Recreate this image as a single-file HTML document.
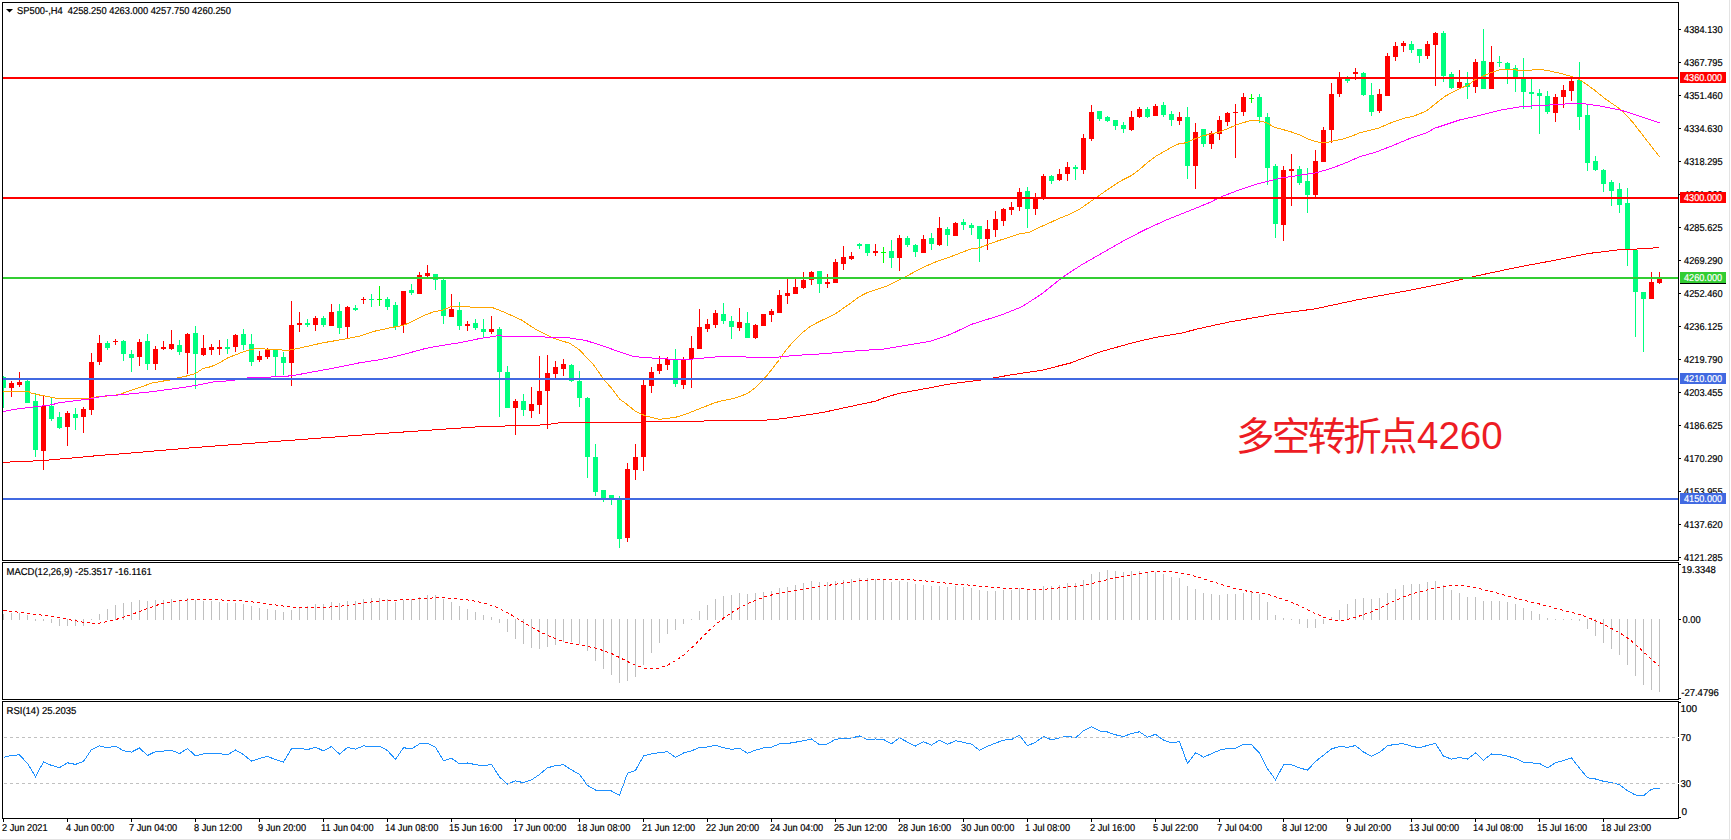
<!DOCTYPE html>
<html><head><meta charset="utf-8"><title>SP500 H4</title>
<style>html,body{margin:0;padding:0;background:#fff;}body{width:1731px;height:840px;overflow:hidden;}svg{display:block;}</style>
</head><body>
<svg width="1731" height="840" viewBox="0 0 1731 840" font-family="'Liberation Sans', Arial, sans-serif"><defs><clipPath id="cm"><rect x="3" y="3" width="1675" height="557"/></clipPath><clipPath id="cs"><rect x="3" y="563" width="1675" height="136"/></clipPath><clipPath id="cr"><rect x="3" y="702" width="1675" height="116"/></clipPath></defs>
<g clip-path="url(#cm)">
<g shape-rendering="crispEdges">
<rect x="3" y="376" width="1" height="32" fill="#00FF7F"/>
<rect x="1" y="377" width="5" height="11" fill="#00FF7F"/>
<rect x="11" y="381" width="1" height="16" fill="#FF0000"/>
<rect x="9" y="383" width="5" height="5" fill="#FF0000"/>
<rect x="19" y="372" width="1" height="15" fill="#FF0000"/>
<rect x="17" y="382" width="5" height="3" fill="#FF0000"/>
<rect x="27" y="380" width="1" height="23" fill="#00FF7F"/>
<rect x="25" y="381" width="5" height="22" fill="#00FF7F"/>
<rect x="35" y="393" width="1" height="64" fill="#00FF7F"/>
<rect x="33" y="401" width="5" height="49" fill="#00FF7F"/>
<rect x="43" y="396" width="1" height="74" fill="#FF0000"/>
<rect x="41" y="406" width="5" height="45" fill="#FF0000"/>
<rect x="51" y="398" width="1" height="23" fill="#00FF7F"/>
<rect x="49" y="406" width="5" height="13" fill="#00FF7F"/>
<rect x="59" y="412" width="1" height="17" fill="#00FF7F"/>
<rect x="57" y="417" width="5" height="11" fill="#00FF7F"/>
<rect x="67" y="411" width="1" height="35" fill="#FF0000"/>
<rect x="65" y="413" width="5" height="14" fill="#FF0000"/>
<rect x="75" y="408" width="1" height="22" fill="#00FF7F"/>
<rect x="73" y="414" width="5" height="4" fill="#00FF7F"/>
<rect x="83" y="407" width="1" height="26" fill="#FF0000"/>
<rect x="81" y="409" width="5" height="8" fill="#FF0000"/>
<rect x="91" y="353" width="1" height="62" fill="#FF0000"/>
<rect x="89" y="362" width="5" height="48" fill="#FF0000"/>
<rect x="99" y="335" width="1" height="30" fill="#FF0000"/>
<rect x="97" y="343" width="5" height="19" fill="#FF0000"/>
<rect x="107" y="341" width="1" height="9" fill="#00FF7F"/>
<rect x="105" y="343" width="5" height="5" fill="#00FF7F"/>
<rect x="115" y="339" width="1" height="6" fill="#FF0000"/>
<rect x="113" y="341" width="5" height="1" fill="#FF0000"/>
<rect x="123" y="340" width="1" height="21" fill="#00FF7F"/>
<rect x="121" y="341" width="5" height="13" fill="#00FF7F"/>
<rect x="131" y="350" width="1" height="22" fill="#00FF7F"/>
<rect x="129" y="354" width="5" height="4" fill="#00FF7F"/>
<rect x="139" y="339" width="1" height="27" fill="#FF0000"/>
<rect x="137" y="342" width="5" height="15" fill="#FF0000"/>
<rect x="147" y="334" width="1" height="36" fill="#00FF7F"/>
<rect x="145" y="341" width="5" height="23" fill="#00FF7F"/>
<rect x="155" y="346" width="1" height="24" fill="#FF0000"/>
<rect x="153" y="349" width="5" height="15" fill="#FF0000"/>
<rect x="163" y="341" width="1" height="9" fill="#FF0000"/>
<rect x="161" y="347" width="5" height="2" fill="#FF0000"/>
<rect x="171" y="330" width="1" height="20" fill="#FF0000"/>
<rect x="169" y="344" width="5" height="5" fill="#FF0000"/>
<rect x="179" y="340" width="1" height="15" fill="#00FF7F"/>
<rect x="177" y="345" width="5" height="7" fill="#00FF7F"/>
<rect x="187" y="333" width="1" height="41" fill="#FF0000"/>
<rect x="185" y="334" width="5" height="19" fill="#FF0000"/>
<rect x="195" y="326" width="1" height="63" fill="#00FF7F"/>
<rect x="193" y="333" width="5" height="21" fill="#00FF7F"/>
<rect x="203" y="335" width="1" height="21" fill="#FF0000"/>
<rect x="201" y="348" width="5" height="7" fill="#FF0000"/>
<rect x="211" y="344" width="1" height="11" fill="#FF0000"/>
<rect x="209" y="347" width="5" height="3" fill="#FF0000"/>
<rect x="219" y="340" width="1" height="15" fill="#FF0000"/>
<rect x="217" y="347" width="5" height="2" fill="#FF0000"/>
<rect x="227" y="339" width="1" height="15" fill="#00FF7F"/>
<rect x="225" y="347" width="5" height="2" fill="#00FF7F"/>
<rect x="235" y="334" width="1" height="18" fill="#FF0000"/>
<rect x="233" y="335" width="5" height="12" fill="#FF0000"/>
<rect x="243" y="329" width="1" height="21" fill="#00FF7F"/>
<rect x="241" y="334" width="5" height="11" fill="#00FF7F"/>
<rect x="251" y="334" width="1" height="32" fill="#00FF7F"/>
<rect x="249" y="344" width="5" height="18" fill="#00FF7F"/>
<rect x="259" y="351" width="1" height="11" fill="#FF0000"/>
<rect x="257" y="356" width="5" height="4" fill="#FF0000"/>
<rect x="267" y="348" width="1" height="11" fill="#FF0000"/>
<rect x="265" y="350" width="5" height="7" fill="#FF0000"/>
<rect x="275" y="349" width="1" height="27" fill="#00FF7F"/>
<rect x="273" y="350" width="5" height="7" fill="#00FF7F"/>
<rect x="283" y="352" width="1" height="23" fill="#00FF7F"/>
<rect x="281" y="357" width="5" height="6" fill="#00FF7F"/>
<rect x="291" y="301" width="1" height="85" fill="#FF0000"/>
<rect x="289" y="325" width="5" height="38" fill="#FF0000"/>
<rect x="299" y="312" width="1" height="20" fill="#FF0000"/>
<rect x="297" y="323" width="5" height="2" fill="#FF0000"/>
<rect x="307" y="319" width="1" height="8" fill="#00FF7F"/>
<rect x="305" y="323" width="5" height="2" fill="#00FF7F"/>
<rect x="315" y="316" width="1" height="15" fill="#FF0000"/>
<rect x="313" y="318" width="5" height="7" fill="#FF0000"/>
<rect x="323" y="316" width="1" height="11" fill="#00FF7F"/>
<rect x="321" y="318" width="5" height="7" fill="#00FF7F"/>
<rect x="331" y="304" width="1" height="22" fill="#FF0000"/>
<rect x="329" y="312" width="5" height="14" fill="#FF0000"/>
<rect x="339" y="304" width="1" height="30" fill="#00FF7F"/>
<rect x="337" y="311" width="5" height="17" fill="#00FF7F"/>
<rect x="347" y="306" width="1" height="32" fill="#FF0000"/>
<rect x="345" y="307" width="5" height="20" fill="#FF0000"/>
<rect x="355" y="305" width="1" height="6" fill="#00FF7F"/>
<rect x="353" y="308" width="5" height="2" fill="#00FF7F"/>
<rect x="363" y="297" width="1" height="7" fill="#FF0000"/>
<rect x="361" y="299" width="5" height="1" fill="#FF0000"/>
<rect x="371" y="294" width="1" height="13" fill="#00FF7F"/>
<rect x="369" y="299" width="5" height="1" fill="#00FF7F"/>
<rect x="379" y="286" width="1" height="20" fill="#00FF00"/>
<rect x="377" y="299" width="5" height="1" fill="#00FF00"/>
<rect x="387" y="297" width="1" height="13" fill="#00FF7F"/>
<rect x="385" y="299" width="5" height="8" fill="#00FF7F"/>
<rect x="395" y="302" width="1" height="28" fill="#00FF7F"/>
<rect x="393" y="305" width="5" height="22" fill="#00FF7F"/>
<rect x="403" y="291" width="1" height="42" fill="#FF0000"/>
<rect x="401" y="291" width="5" height="34" fill="#FF0000"/>
<rect x="411" y="284" width="1" height="11" fill="#00FF7F"/>
<rect x="409" y="290" width="5" height="3" fill="#00FF7F"/>
<rect x="419" y="272" width="1" height="22" fill="#FF0000"/>
<rect x="417" y="275" width="5" height="19" fill="#FF0000"/>
<rect x="427" y="265" width="1" height="12" fill="#FF0000"/>
<rect x="425" y="273" width="5" height="3" fill="#FF0000"/>
<rect x="435" y="274" width="1" height="16" fill="#00FF7F"/>
<rect x="433" y="274" width="5" height="6" fill="#00FF7F"/>
<rect x="443" y="279" width="1" height="45" fill="#00FF7F"/>
<rect x="441" y="280" width="5" height="36" fill="#00FF7F"/>
<rect x="451" y="294" width="1" height="23" fill="#FF0000"/>
<rect x="449" y="309" width="5" height="8" fill="#FF0000"/>
<rect x="459" y="302" width="1" height="28" fill="#00FF7F"/>
<rect x="457" y="310" width="5" height="16" fill="#00FF7F"/>
<rect x="467" y="321" width="1" height="10" fill="#FF0000"/>
<rect x="465" y="324" width="5" height="2" fill="#FF0000"/>
<rect x="475" y="319" width="1" height="11" fill="#00FF7F"/>
<rect x="473" y="323" width="5" height="5" fill="#00FF7F"/>
<rect x="483" y="319" width="1" height="18" fill="#00FF7F"/>
<rect x="481" y="329" width="5" height="3" fill="#00FF7F"/>
<rect x="491" y="316" width="1" height="18" fill="#FF0000"/>
<rect x="489" y="329" width="5" height="3" fill="#FF0000"/>
<rect x="499" y="327" width="1" height="90" fill="#00FF7F"/>
<rect x="497" y="329" width="5" height="43" fill="#00FF7F"/>
<rect x="507" y="366" width="1" height="42" fill="#00FF7F"/>
<rect x="505" y="372" width="5" height="36" fill="#00FF7F"/>
<rect x="515" y="399" width="1" height="36" fill="#FF0000"/>
<rect x="513" y="401" width="5" height="7" fill="#FF0000"/>
<rect x="523" y="394" width="1" height="22" fill="#00FF7F"/>
<rect x="521" y="401" width="5" height="9" fill="#00FF7F"/>
<rect x="531" y="387" width="1" height="31" fill="#FF0000"/>
<rect x="529" y="404" width="5" height="7" fill="#FF0000"/>
<rect x="539" y="356" width="1" height="58" fill="#FF0000"/>
<rect x="537" y="391" width="5" height="14" fill="#FF0000"/>
<rect x="547" y="355" width="1" height="74" fill="#FF0000"/>
<rect x="545" y="373" width="5" height="18" fill="#FF0000"/>
<rect x="555" y="361" width="1" height="17" fill="#FF0000"/>
<rect x="553" y="367" width="5" height="7" fill="#FF0000"/>
<rect x="563" y="359" width="1" height="17" fill="#FF0000"/>
<rect x="561" y="364" width="5" height="5" fill="#FF0000"/>
<rect x="571" y="364" width="1" height="18" fill="#00FF7F"/>
<rect x="569" y="365" width="5" height="16" fill="#00FF7F"/>
<rect x="579" y="371" width="1" height="36" fill="#00FF7F"/>
<rect x="577" y="381" width="5" height="17" fill="#00FF7F"/>
<rect x="587" y="397" width="1" height="81" fill="#00FF7F"/>
<rect x="585" y="398" width="5" height="59" fill="#00FF7F"/>
<rect x="595" y="444" width="1" height="52" fill="#00FF7F"/>
<rect x="593" y="457" width="5" height="35" fill="#00FF7F"/>
<rect x="603" y="490" width="1" height="12" fill="#00FF7F"/>
<rect x="601" y="490" width="5" height="9" fill="#00FF7F"/>
<rect x="611" y="495" width="1" height="10" fill="#00FF7F"/>
<rect x="609" y="495" width="5" height="5" fill="#00FF7F"/>
<rect x="619" y="496" width="1" height="52" fill="#00FF7F"/>
<rect x="617" y="498" width="5" height="41" fill="#00FF7F"/>
<rect x="627" y="463" width="1" height="79" fill="#FF0000"/>
<rect x="625" y="469" width="5" height="69" fill="#FF0000"/>
<rect x="635" y="444" width="1" height="36" fill="#FF0000"/>
<rect x="633" y="457" width="5" height="13" fill="#FF0000"/>
<rect x="643" y="380" width="1" height="91" fill="#FF0000"/>
<rect x="641" y="385" width="5" height="72" fill="#FF0000"/>
<rect x="651" y="367" width="1" height="26" fill="#FF0000"/>
<rect x="649" y="372" width="5" height="14" fill="#FF0000"/>
<rect x="659" y="356" width="1" height="18" fill="#FF0000"/>
<rect x="657" y="364" width="5" height="7" fill="#FF0000"/>
<rect x="667" y="357" width="1" height="13" fill="#FF0000"/>
<rect x="665" y="359" width="5" height="6" fill="#FF0000"/>
<rect x="675" y="349" width="1" height="38" fill="#00FF7F"/>
<rect x="673" y="360" width="5" height="24" fill="#00FF7F"/>
<rect x="683" y="357" width="1" height="32" fill="#FF0000"/>
<rect x="681" y="360" width="5" height="25" fill="#FF0000"/>
<rect x="691" y="336" width="1" height="52" fill="#FF0000"/>
<rect x="689" y="348" width="5" height="11" fill="#FF0000"/>
<rect x="699" y="309" width="1" height="40" fill="#FF0000"/>
<rect x="697" y="327" width="5" height="22" fill="#FF0000"/>
<rect x="707" y="319" width="1" height="13" fill="#FF0000"/>
<rect x="705" y="324" width="5" height="5" fill="#FF0000"/>
<rect x="715" y="310" width="1" height="18" fill="#FF0000"/>
<rect x="713" y="313" width="5" height="12" fill="#FF0000"/>
<rect x="723" y="303" width="1" height="21" fill="#00FF7F"/>
<rect x="721" y="314" width="5" height="7" fill="#00FF7F"/>
<rect x="731" y="316" width="1" height="23" fill="#00FF7F"/>
<rect x="729" y="321" width="5" height="6" fill="#00FF7F"/>
<rect x="739" y="308" width="1" height="23" fill="#FF0000"/>
<rect x="737" y="322" width="5" height="6" fill="#FF0000"/>
<rect x="747" y="312" width="1" height="26" fill="#00FF7F"/>
<rect x="745" y="323" width="5" height="15" fill="#00FF7F"/>
<rect x="755" y="324" width="1" height="15" fill="#FF0000"/>
<rect x="753" y="325" width="5" height="13" fill="#FF0000"/>
<rect x="763" y="314" width="1" height="12" fill="#FF0000"/>
<rect x="761" y="314" width="5" height="12" fill="#FF0000"/>
<rect x="771" y="309" width="1" height="13" fill="#FF0000"/>
<rect x="769" y="311" width="5" height="4" fill="#FF0000"/>
<rect x="779" y="290" width="1" height="23" fill="#FF0000"/>
<rect x="777" y="295" width="5" height="18" fill="#FF0000"/>
<rect x="787" y="279" width="1" height="25" fill="#FF0000"/>
<rect x="785" y="293" width="5" height="3" fill="#FF0000"/>
<rect x="795" y="279" width="1" height="15" fill="#FF0000"/>
<rect x="793" y="287" width="5" height="7" fill="#FF0000"/>
<rect x="803" y="272" width="1" height="17" fill="#FF0000"/>
<rect x="801" y="280" width="5" height="8" fill="#FF0000"/>
<rect x="811" y="271" width="1" height="14" fill="#FF0000"/>
<rect x="809" y="272" width="5" height="8" fill="#FF0000"/>
<rect x="819" y="271" width="1" height="22" fill="#00FF7F"/>
<rect x="817" y="271" width="5" height="13" fill="#00FF7F"/>
<rect x="827" y="274" width="1" height="14" fill="#FF0000"/>
<rect x="825" y="282" width="5" height="2" fill="#FF0000"/>
<rect x="835" y="259" width="1" height="24" fill="#FF0000"/>
<rect x="833" y="262" width="5" height="21" fill="#FF0000"/>
<rect x="843" y="246" width="1" height="24" fill="#FF0000"/>
<rect x="841" y="257" width="5" height="7" fill="#FF0000"/>
<rect x="851" y="252" width="1" height="8" fill="#FF0000"/>
<rect x="849" y="256" width="5" height="3" fill="#FF0000"/>
<rect x="859" y="243" width="1" height="6" fill="#00FF7F"/>
<rect x="857" y="244" width="5" height="2" fill="#00FF7F"/>
<rect x="867" y="244" width="1" height="12" fill="#00FF7F"/>
<rect x="865" y="244" width="5" height="9" fill="#00FF7F"/>
<rect x="875" y="244" width="1" height="12" fill="#FF0000"/>
<rect x="873" y="251" width="5" height="2" fill="#FF0000"/>
<rect x="883" y="247" width="1" height="16" fill="#00FF00"/>
<rect x="881" y="252" width="5" height="1" fill="#00FF00"/>
<rect x="891" y="240" width="1" height="28" fill="#00FF7F"/>
<rect x="889" y="251" width="5" height="7" fill="#00FF7F"/>
<rect x="899" y="235" width="1" height="36" fill="#FF0000"/>
<rect x="897" y="238" width="5" height="20" fill="#FF0000"/>
<rect x="907" y="236" width="1" height="11" fill="#00FF7F"/>
<rect x="905" y="238" width="5" height="7" fill="#00FF7F"/>
<rect x="915" y="244" width="1" height="13" fill="#00FF7F"/>
<rect x="913" y="245" width="5" height="7" fill="#00FF7F"/>
<rect x="923" y="235" width="1" height="18" fill="#FF0000"/>
<rect x="921" y="239" width="5" height="14" fill="#FF0000"/>
<rect x="931" y="233" width="1" height="17" fill="#00FF7F"/>
<rect x="929" y="238" width="5" height="6" fill="#00FF7F"/>
<rect x="939" y="217" width="1" height="29" fill="#FF0000"/>
<rect x="937" y="228" width="5" height="17" fill="#FF0000"/>
<rect x="947" y="227" width="1" height="19" fill="#00FF7F"/>
<rect x="945" y="229" width="5" height="6" fill="#00FF7F"/>
<rect x="955" y="222" width="1" height="14" fill="#FF0000"/>
<rect x="953" y="223" width="5" height="13" fill="#FF0000"/>
<rect x="963" y="219" width="1" height="11" fill="#00FF7F"/>
<rect x="961" y="222" width="5" height="3" fill="#00FF7F"/>
<rect x="971" y="223" width="1" height="12" fill="#00FF7F"/>
<rect x="969" y="225" width="5" height="3" fill="#00FF7F"/>
<rect x="979" y="226" width="1" height="36" fill="#00FF7F"/>
<rect x="977" y="226" width="5" height="13" fill="#00FF7F"/>
<rect x="987" y="220" width="1" height="30" fill="#FF0000"/>
<rect x="985" y="229" width="5" height="10" fill="#FF0000"/>
<rect x="995" y="211" width="1" height="26" fill="#FF0000"/>
<rect x="993" y="219" width="5" height="11" fill="#FF0000"/>
<rect x="1003" y="208" width="1" height="18" fill="#FF0000"/>
<rect x="1001" y="209" width="5" height="12" fill="#FF0000"/>
<rect x="1011" y="202" width="1" height="13" fill="#FF0000"/>
<rect x="1009" y="207" width="5" height="3" fill="#FF0000"/>
<rect x="1019" y="188" width="1" height="23" fill="#FF0000"/>
<rect x="1017" y="192" width="5" height="15" fill="#FF0000"/>
<rect x="1027" y="187" width="1" height="41" fill="#00FF7F"/>
<rect x="1025" y="191" width="5" height="18" fill="#00FF7F"/>
<rect x="1035" y="193" width="1" height="22" fill="#FF0000"/>
<rect x="1033" y="198" width="5" height="11" fill="#FF0000"/>
<rect x="1043" y="174" width="1" height="26" fill="#FF0000"/>
<rect x="1041" y="176" width="5" height="23" fill="#FF0000"/>
<rect x="1051" y="175" width="1" height="9" fill="#00FF7F"/>
<rect x="1049" y="176" width="5" height="5" fill="#00FF7F"/>
<rect x="1059" y="169" width="1" height="12" fill="#FF0000"/>
<rect x="1057" y="174" width="5" height="6" fill="#FF0000"/>
<rect x="1067" y="162" width="1" height="19" fill="#FF0000"/>
<rect x="1065" y="167" width="5" height="7" fill="#FF0000"/>
<rect x="1075" y="165" width="1" height="15" fill="#00FF7F"/>
<rect x="1073" y="167" width="5" height="2" fill="#00FF7F"/>
<rect x="1083" y="134" width="1" height="40" fill="#FF0000"/>
<rect x="1081" y="138" width="5" height="32" fill="#FF0000"/>
<rect x="1091" y="105" width="1" height="36" fill="#FF0000"/>
<rect x="1089" y="112" width="5" height="27" fill="#FF0000"/>
<rect x="1099" y="111" width="1" height="10" fill="#00FF7F"/>
<rect x="1097" y="111" width="5" height="8" fill="#00FF7F"/>
<rect x="1107" y="116" width="1" height="6" fill="#00FF7F"/>
<rect x="1105" y="117" width="5" height="4" fill="#00FF7F"/>
<rect x="1115" y="120" width="1" height="10" fill="#00FF7F"/>
<rect x="1113" y="120" width="5" height="6" fill="#00FF7F"/>
<rect x="1123" y="122" width="1" height="11" fill="#00FF7F"/>
<rect x="1121" y="125" width="5" height="4" fill="#00FF7F"/>
<rect x="1131" y="111" width="1" height="20" fill="#FF0000"/>
<rect x="1129" y="117" width="5" height="13" fill="#FF0000"/>
<rect x="1139" y="107" width="1" height="11" fill="#FF0000"/>
<rect x="1137" y="109" width="5" height="8" fill="#FF0000"/>
<rect x="1147" y="107" width="1" height="11" fill="#00FF7F"/>
<rect x="1145" y="109" width="5" height="8" fill="#00FF7F"/>
<rect x="1155" y="104" width="1" height="12" fill="#FF0000"/>
<rect x="1153" y="106" width="5" height="10" fill="#FF0000"/>
<rect x="1163" y="102" width="1" height="15" fill="#00FF7F"/>
<rect x="1161" y="105" width="5" height="10" fill="#00FF7F"/>
<rect x="1171" y="111" width="1" height="15" fill="#00FF7F"/>
<rect x="1169" y="114" width="5" height="6" fill="#00FF7F"/>
<rect x="1179" y="112" width="1" height="13" fill="#FF0000"/>
<rect x="1177" y="117" width="5" height="4" fill="#FF0000"/>
<rect x="1187" y="107" width="1" height="72" fill="#00FF7F"/>
<rect x="1185" y="117" width="5" height="49" fill="#00FF7F"/>
<rect x="1195" y="123" width="1" height="66" fill="#FF0000"/>
<rect x="1193" y="132" width="5" height="34" fill="#FF0000"/>
<rect x="1203" y="129" width="1" height="18" fill="#00FF7F"/>
<rect x="1201" y="129" width="5" height="15" fill="#00FF7F"/>
<rect x="1211" y="131" width="1" height="18" fill="#FF0000"/>
<rect x="1209" y="133" width="5" height="11" fill="#FF0000"/>
<rect x="1219" y="116" width="1" height="24" fill="#FF0000"/>
<rect x="1217" y="120" width="5" height="14" fill="#FF0000"/>
<rect x="1227" y="112" width="1" height="14" fill="#FF0000"/>
<rect x="1225" y="113" width="5" height="9" fill="#FF0000"/>
<rect x="1235" y="104" width="1" height="54" fill="#FF0000"/>
<rect x="1233" y="112" width="5" height="1" fill="#FF0000"/>
<rect x="1243" y="93" width="1" height="23" fill="#FF0000"/>
<rect x="1241" y="97" width="5" height="15" fill="#FF0000"/>
<rect x="1251" y="94" width="1" height="9" fill="#00FF00"/>
<rect x="1249" y="98" width="5" height="1" fill="#00FF00"/>
<rect x="1259" y="94" width="1" height="29" fill="#00FF7F"/>
<rect x="1257" y="97" width="5" height="20" fill="#00FF7F"/>
<rect x="1267" y="113" width="1" height="72" fill="#00FF7F"/>
<rect x="1265" y="117" width="5" height="51" fill="#00FF7F"/>
<rect x="1275" y="164" width="1" height="74" fill="#00FF7F"/>
<rect x="1273" y="166" width="5" height="58" fill="#00FF7F"/>
<rect x="1283" y="166" width="1" height="75" fill="#FF0000"/>
<rect x="1281" y="170" width="5" height="55" fill="#FF0000"/>
<rect x="1291" y="154" width="1" height="52" fill="#FF0000"/>
<rect x="1289" y="169" width="5" height="2" fill="#FF0000"/>
<rect x="1299" y="166" width="1" height="19" fill="#00FF7F"/>
<rect x="1297" y="169" width="5" height="14" fill="#00FF7F"/>
<rect x="1307" y="168" width="1" height="45" fill="#00FF7F"/>
<rect x="1305" y="181" width="5" height="14" fill="#00FF7F"/>
<rect x="1315" y="150" width="1" height="47" fill="#FF0000"/>
<rect x="1313" y="161" width="5" height="34" fill="#FF0000"/>
<rect x="1323" y="127" width="1" height="35" fill="#FF0000"/>
<rect x="1321" y="130" width="5" height="32" fill="#FF0000"/>
<rect x="1331" y="83" width="1" height="60" fill="#FF0000"/>
<rect x="1329" y="94" width="5" height="36" fill="#FF0000"/>
<rect x="1339" y="72" width="1" height="25" fill="#FF0000"/>
<rect x="1337" y="79" width="5" height="15" fill="#FF0000"/>
<rect x="1347" y="76" width="1" height="7" fill="#00FF7F"/>
<rect x="1345" y="79" width="5" height="2" fill="#00FF7F"/>
<rect x="1355" y="68" width="1" height="12" fill="#FF0000"/>
<rect x="1353" y="72" width="5" height="2" fill="#FF0000"/>
<rect x="1363" y="72" width="1" height="24" fill="#00FF7F"/>
<rect x="1361" y="73" width="5" height="22" fill="#00FF7F"/>
<rect x="1371" y="83" width="1" height="33" fill="#00FF7F"/>
<rect x="1369" y="95" width="5" height="17" fill="#00FF7F"/>
<rect x="1379" y="89" width="1" height="24" fill="#FF0000"/>
<rect x="1377" y="94" width="5" height="17" fill="#FF0000"/>
<rect x="1387" y="53" width="1" height="43" fill="#FF0000"/>
<rect x="1385" y="56" width="5" height="40" fill="#FF0000"/>
<rect x="1395" y="42" width="1" height="19" fill="#FF0000"/>
<rect x="1393" y="46" width="5" height="11" fill="#FF0000"/>
<rect x="1403" y="41" width="1" height="11" fill="#FF0000"/>
<rect x="1401" y="43" width="5" height="3" fill="#FF0000"/>
<rect x="1411" y="41" width="1" height="12" fill="#00FF7F"/>
<rect x="1409" y="44" width="5" height="6" fill="#00FF7F"/>
<rect x="1419" y="49" width="1" height="14" fill="#00FF7F"/>
<rect x="1417" y="49" width="5" height="7" fill="#00FF7F"/>
<rect x="1427" y="41" width="1" height="18" fill="#FF0000"/>
<rect x="1425" y="44" width="5" height="12" fill="#FF0000"/>
<rect x="1435" y="32" width="1" height="54" fill="#FF0000"/>
<rect x="1433" y="33" width="5" height="12" fill="#FF0000"/>
<rect x="1443" y="31" width="1" height="51" fill="#00FF7F"/>
<rect x="1441" y="33" width="5" height="43" fill="#00FF7F"/>
<rect x="1451" y="72" width="1" height="17" fill="#00FF7F"/>
<rect x="1449" y="74" width="5" height="14" fill="#00FF7F"/>
<rect x="1459" y="70" width="1" height="19" fill="#FF0000"/>
<rect x="1457" y="82" width="5" height="6" fill="#FF0000"/>
<rect x="1467" y="72" width="1" height="27" fill="#00FF7F"/>
<rect x="1465" y="83" width="5" height="4" fill="#00FF7F"/>
<rect x="1475" y="59" width="1" height="34" fill="#FF0000"/>
<rect x="1473" y="62" width="5" height="25" fill="#FF0000"/>
<rect x="1483" y="29" width="1" height="60" fill="#00FF7F"/>
<rect x="1481" y="61" width="5" height="28" fill="#00FF7F"/>
<rect x="1491" y="46" width="1" height="43" fill="#FF0000"/>
<rect x="1489" y="62" width="5" height="27" fill="#FF0000"/>
<rect x="1499" y="56" width="1" height="11" fill="#00FF7F"/>
<rect x="1497" y="62" width="5" height="1" fill="#00FF7F"/>
<rect x="1507" y="62" width="1" height="22" fill="#00FF7F"/>
<rect x="1505" y="63" width="5" height="6" fill="#00FF7F"/>
<rect x="1515" y="65" width="1" height="27" fill="#00FF7F"/>
<rect x="1513" y="68" width="5" height="9" fill="#00FF7F"/>
<rect x="1523" y="58" width="1" height="51" fill="#00FF7F"/>
<rect x="1521" y="78" width="5" height="14" fill="#00FF7F"/>
<rect x="1531" y="79" width="1" height="30" fill="#00FF7F"/>
<rect x="1529" y="92" width="5" height="2" fill="#00FF7F"/>
<rect x="1539" y="89" width="1" height="45" fill="#00FF7F"/>
<rect x="1537" y="93" width="5" height="3" fill="#00FF7F"/>
<rect x="1547" y="91" width="1" height="23" fill="#00FF7F"/>
<rect x="1545" y="96" width="5" height="16" fill="#00FF7F"/>
<rect x="1555" y="94" width="1" height="28" fill="#FF0000"/>
<rect x="1553" y="97" width="5" height="16" fill="#FF0000"/>
<rect x="1563" y="85" width="1" height="23" fill="#FF0000"/>
<rect x="1561" y="90" width="5" height="7" fill="#FF0000"/>
<rect x="1571" y="79" width="1" height="22" fill="#FF0000"/>
<rect x="1569" y="81" width="5" height="10" fill="#FF0000"/>
<rect x="1579" y="62" width="1" height="68" fill="#00FF7F"/>
<rect x="1577" y="80" width="5" height="37" fill="#00FF7F"/>
<rect x="1587" y="105" width="1" height="66" fill="#00FF7F"/>
<rect x="1585" y="115" width="5" height="48" fill="#00FF7F"/>
<rect x="1595" y="156" width="1" height="15" fill="#00FF7F"/>
<rect x="1593" y="161" width="5" height="9" fill="#00FF7F"/>
<rect x="1603" y="169" width="1" height="23" fill="#00FF7F"/>
<rect x="1601" y="170" width="5" height="14" fill="#00FF7F"/>
<rect x="1611" y="180" width="1" height="26" fill="#00FF7F"/>
<rect x="1609" y="182" width="5" height="9" fill="#00FF7F"/>
<rect x="1619" y="183" width="1" height="30" fill="#00FF7F"/>
<rect x="1617" y="189" width="5" height="16" fill="#00FF7F"/>
<rect x="1627" y="188" width="1" height="78" fill="#00FF7F"/>
<rect x="1625" y="203" width="5" height="47" fill="#00FF7F"/>
<rect x="1635" y="249" width="1" height="88" fill="#00FF7F"/>
<rect x="1633" y="250" width="5" height="42" fill="#00FF7F"/>
<rect x="1643" y="292" width="1" height="60" fill="#00FF7F"/>
<rect x="1641" y="292" width="5" height="7" fill="#00FF7F"/>
<rect x="1651" y="272" width="1" height="27" fill="#FF0000"/>
<rect x="1649" y="282" width="5" height="17" fill="#FF0000"/>
<rect x="1659" y="272" width="1" height="12" fill="#FF0000"/>
<rect x="1657" y="279" width="5" height="4" fill="#FF0000"/>
</g>
<g shape-rendering="crispEdges">
<polyline points="0.5,462.3 3.5,462.3 40.5,460.7 80.5,457.3 100.5,455.3 120.5,453.9 192.9,447.7 285.4,440.7 377.8,433.8 479.5,426.7 509.5,425.9 535.5,425.3 549.5,424.3 559.5,422.7 641.5,422.7 647.5,421.7 687.5,421.7 695.5,421.1 740.5,420.6 759.3,420.6 782.5,418.7 823.1,412.4 845.6,407.5 875.7,401.1 883.2,398.1 898.2,393.6 920.7,389.5 950.8,383.8 980.8,380.1 1012.7,374.6 1041.5,370.3 1070.5,363.0 1099.3,352.1 1128.2,344.0 1143.4,340.2 1157.1,337.1 1180.5,333.3 1199.4,328.5 1228.3,322.2 1271.6,314.6 1314.9,308.9 1358.3,299.6 1401.6,291.8 1444.9,283.2 1473.8,276.5 1517.1,267.3 1560.5,259.2 1589.3,253.4 1618.2,249.9 1639.5,248.9 1659.5,247.6" fill="none" stroke="#FF0000" stroke-width="1" />
<polyline points="0.5,391.7 29.0,391.7 31.5,393.1 37.3,394.6 43.3,395.7 48.9,396.8 54.1,397.7 57.5,398.7 80.5,398.7 88.5,398.7 95.1,397.1 103.5,396.5 110.5,395.5 117.5,394.9 121.5,393.8 126.5,391.8 136.2,388.6 152.8,382.8 169.5,380.0 177.8,377.8 186.2,376.1 195.5,373.6 202.8,368.6 211.2,366.6 219.5,362.8 227.8,357.8 239.5,353.3 247.8,350.3 256.2,348.6 264.5,349.0 279.5,349.5 286.2,350.8 292.8,349.5 306.2,346.6 322.8,342.8 339.5,340.0 359.5,336.1 376.2,330.8 392.8,327.3 402.8,325.6 409.5,322.8 417.8,318.6 426.2,314.5 434.5,311.6 442.8,310.0 451.2,306.6 467.8,306.6 474.5,307.8 479.5,307.7 492.5,307.6 504.8,312.4 520.9,319.7 537.1,330.2 553.3,338.3 569.5,343.2 579.2,349.6 593.7,365.0 603.4,378.8 613.1,390.1 619.6,399.0 625.5,403.3 635.5,411.3 645.5,415.9 659.5,419.3 675.5,417.3 685.5,414.3 696.2,410.0 706.2,406.1 714.5,402.8 722.8,400.6 731.2,399.0 739.5,396.6 747.8,393.3 756.2,387.0 767.2,375.2 779.5,359.5 784.5,352.0 792.8,342.0 801.2,333.6 809.5,327.0 817.8,322.3 826.2,318.3 834.5,314.5 842.8,308.6 851.2,302.8 859.5,296.6 867.8,292.3 879.5,288.6 887.8,285.6 896.2,281.6 904.5,277.3 912.8,272.8 921.2,268.3 929.5,264.5 937.8,261.1 946.2,258.3 954.5,255.3 962.8,252.0 971.2,249.0 979.5,247.8 987.8,244.5 999.5,240.3 1009.5,237.3 1019.5,233.9 1029.5,232.3 1039.5,227.3 1049.5,222.9 1059.5,218.3 1069.5,214.3 1079.5,209.3 1089.5,202.3 1099.5,195.3 1109.5,188.3 1119.5,181.6 1131.2,175.6 1139.5,169.5 1147.8,162.3 1156.2,156.1 1166.2,150.3 1174.5,145.6 1179.5,143.6 1186.2,142.8 1194.5,139.0 1202.8,135.8 1211.2,134.0 1219.5,132.0 1227.8,128.6 1239.5,123.7 1249.5,120.9 1259.5,120.9 1265.5,122.3 1275.5,127.7 1289.5,131.3 1299.5,134.9 1309.5,139.7 1317.5,141.9 1325.5,142.9 1333.5,140.9 1343.5,138.9 1351.5,136.3 1359.5,132.8 1369.5,130.3 1379.5,127.8 1392.8,122.0 1404.5,118.1 1412.8,116.5 1426.2,111.1 1434.5,104.5 1444.5,96.6 1459.5,88.6 1467.8,85.3 1474.5,80.0 1479.5,77.6 1489.5,73.3 1499.5,69.7 1509.5,69.3 1519.5,70.3 1529.5,70.3 1539.5,69.3 1549.5,70.9 1560.5,73.4 1572.3,76.7 1580.1,79.9 1593.2,89.1 1606.3,99.6 1620.7,109.4 1632.5,121.9 1645.6,138.9 1659.5,156.8" fill="none" stroke="#FFA500" stroke-width="1" />
<polyline points="0.5,411.7 3.5,411.7 7.5,410.7 12.5,409.6 19.5,408.7 27.5,407.7 35.5,406.7 44.5,405.7 52.5,404.7 56.5,403.3 59.5,402.7 67.5,401.7 75.5,400.7 83.5,399.7 91.5,398.7 99.5,396.8 107.5,395.7 116.5,395.1 125.5,394.4 152.8,391.6 186.2,387.0 196.2,385.3 212.8,382.0 231.2,380.6 247.8,377.8 271.2,377.0 287.8,376.1 296.2,375.0 314.5,371.6 331.2,368.6 347.8,365.3 359.5,362.8 376.2,360.3 392.8,357.0 409.5,352.8 426.2,348.3 442.8,345.3 459.5,342.8 479.5,338.6 496.7,335.9 537.1,336.7 569.5,338.0 585.6,340.4 601.8,345.6 618.0,351.3 634.2,356.6 658.4,358.5 682.7,359.8 698.9,358.5 719.9,356.6 744.2,356.9 760.5,357.7 776.2,357.3 792.8,355.6 809.5,354.5 826.2,353.6 842.8,352.0 859.5,350.6 882.5,349.2 900.5,346.3 930.9,341.2 951.1,334.1 971.3,324.4 1001.7,314.9 1021.9,306.8 1042.2,293.6 1062.4,277.4 1080.5,265.5 1101.9,253.2 1123.4,240.9 1144.8,229.8 1166.2,220.0 1187.7,211.4 1209.1,202.8 1219.8,197.4 1240.5,189.4 1259.5,183.3 1279.5,178.3 1299.5,175.3 1315.5,172.9 1329.5,168.9 1339.5,165.3 1349.5,161.3 1359.5,156.8 1376.2,152.0 1392.8,145.6 1409.5,138.6 1426.2,133.1 1434.5,128.3 1442.8,125.6 1459.5,120.0 1479.5,115.5 1499.5,110.3 1519.5,106.9 1539.5,105.3 1559.5,104.7 1568.4,103.5 1582.8,103.5 1599.8,105.9 1620.7,110.1 1639.1,116.0 1659.5,122.9" fill="none" stroke="#FF00FF" stroke-width="1" />
</g>
<g shape-rendering="crispEdges">
<rect x="3" y="77" width="1675" height="2" fill="#FF0000"/>
<rect x="3" y="197" width="1675" height="2" fill="#FF0000"/>
<rect x="3" y="277" width="1675" height="2" fill="#32CD32"/>
<rect x="3" y="378" width="1675" height="2" fill="#4169E1"/>
<rect x="3" y="498" width="1675" height="2" fill="#4169E1"/>
</g>
</g>
<g clip-path="url(#cs)">
<g shape-rendering="crispEdges">
<rect x="3" y="614" width="1" height="6" fill="#C0C0C0"/>
<rect x="11" y="613" width="1" height="7" fill="#C0C0C0"/>
<rect x="19" y="613" width="1" height="7" fill="#C0C0C0"/>
<rect x="27" y="615" width="1" height="5" fill="#C0C0C0"/>
<rect x="35" y="619" width="1" height="2" fill="#C0C0C0"/>
<rect x="43" y="619" width="1" height="2" fill="#C0C0C0"/>
<rect x="51" y="619" width="1" height="4" fill="#C0C0C0"/>
<rect x="59" y="619" width="1" height="7" fill="#C0C0C0"/>
<rect x="67" y="619" width="1" height="7" fill="#C0C0C0"/>
<rect x="75" y="619" width="1" height="7" fill="#C0C0C0"/>
<rect x="83" y="619" width="1" height="7" fill="#C0C0C0"/>
<rect x="91" y="619" width="1" height="1" fill="#C0C0C0"/>
<rect x="99" y="614" width="1" height="6" fill="#C0C0C0"/>
<rect x="107" y="609" width="1" height="11" fill="#C0C0C0"/>
<rect x="115" y="605" width="1" height="15" fill="#C0C0C0"/>
<rect x="123" y="603" width="1" height="17" fill="#C0C0C0"/>
<rect x="131" y="602" width="1" height="18" fill="#C0C0C0"/>
<rect x="139" y="600" width="1" height="20" fill="#C0C0C0"/>
<rect x="147" y="601" width="1" height="19" fill="#C0C0C0"/>
<rect x="155" y="600" width="1" height="20" fill="#C0C0C0"/>
<rect x="163" y="600" width="1" height="20" fill="#C0C0C0"/>
<rect x="171" y="599" width="1" height="21" fill="#C0C0C0"/>
<rect x="179" y="600" width="1" height="20" fill="#C0C0C0"/>
<rect x="187" y="598" width="1" height="22" fill="#C0C0C0"/>
<rect x="195" y="600" width="1" height="20" fill="#C0C0C0"/>
<rect x="203" y="601" width="1" height="19" fill="#C0C0C0"/>
<rect x="211" y="601" width="1" height="19" fill="#C0C0C0"/>
<rect x="219" y="602" width="1" height="18" fill="#C0C0C0"/>
<rect x="227" y="603" width="1" height="17" fill="#C0C0C0"/>
<rect x="235" y="603" width="1" height="17" fill="#C0C0C0"/>
<rect x="243" y="604" width="1" height="16" fill="#C0C0C0"/>
<rect x="251" y="606" width="1" height="14" fill="#C0C0C0"/>
<rect x="259" y="608" width="1" height="12" fill="#C0C0C0"/>
<rect x="267" y="609" width="1" height="11" fill="#C0C0C0"/>
<rect x="275" y="610" width="1" height="10" fill="#C0C0C0"/>
<rect x="283" y="612" width="1" height="8" fill="#C0C0C0"/>
<rect x="291" y="610" width="1" height="10" fill="#C0C0C0"/>
<rect x="299" y="607" width="1" height="13" fill="#C0C0C0"/>
<rect x="307" y="606" width="1" height="14" fill="#C0C0C0"/>
<rect x="315" y="604" width="1" height="16" fill="#C0C0C0"/>
<rect x="323" y="604" width="1" height="16" fill="#C0C0C0"/>
<rect x="331" y="602" width="1" height="18" fill="#C0C0C0"/>
<rect x="339" y="603" width="1" height="17" fill="#C0C0C0"/>
<rect x="347" y="601" width="1" height="19" fill="#C0C0C0"/>
<rect x="355" y="601" width="1" height="19" fill="#C0C0C0"/>
<rect x="363" y="599" width="1" height="21" fill="#C0C0C0"/>
<rect x="371" y="598" width="1" height="22" fill="#C0C0C0"/>
<rect x="379" y="598" width="1" height="22" fill="#C0C0C0"/>
<rect x="387" y="599" width="1" height="21" fill="#C0C0C0"/>
<rect x="395" y="602" width="1" height="18" fill="#C0C0C0"/>
<rect x="403" y="600" width="1" height="20" fill="#C0C0C0"/>
<rect x="411" y="599" width="1" height="21" fill="#C0C0C0"/>
<rect x="419" y="597" width="1" height="23" fill="#C0C0C0"/>
<rect x="427" y="595" width="1" height="25" fill="#C0C0C0"/>
<rect x="435" y="595" width="1" height="25" fill="#C0C0C0"/>
<rect x="443" y="599" width="1" height="21" fill="#C0C0C0"/>
<rect x="451" y="602" width="1" height="18" fill="#C0C0C0"/>
<rect x="459" y="606" width="1" height="14" fill="#C0C0C0"/>
<rect x="467" y="609" width="1" height="11" fill="#C0C0C0"/>
<rect x="475" y="612" width="1" height="8" fill="#C0C0C0"/>
<rect x="483" y="615" width="1" height="5" fill="#C0C0C0"/>
<rect x="491" y="617" width="1" height="3" fill="#C0C0C0"/>
<rect x="499" y="619" width="1" height="4" fill="#C0C0C0"/>
<rect x="507" y="619" width="1" height="13" fill="#C0C0C0"/>
<rect x="515" y="619" width="1" height="20" fill="#C0C0C0"/>
<rect x="523" y="619" width="1" height="25" fill="#C0C0C0"/>
<rect x="531" y="619" width="1" height="29" fill="#C0C0C0"/>
<rect x="539" y="619" width="1" height="30" fill="#C0C0C0"/>
<rect x="547" y="619" width="1" height="28" fill="#C0C0C0"/>
<rect x="555" y="619" width="1" height="26" fill="#C0C0C0"/>
<rect x="563" y="619" width="1" height="23" fill="#C0C0C0"/>
<rect x="571" y="619" width="1" height="23" fill="#C0C0C0"/>
<rect x="579" y="619" width="1" height="25" fill="#C0C0C0"/>
<rect x="587" y="619" width="1" height="32" fill="#C0C0C0"/>
<rect x="595" y="619" width="1" height="42" fill="#C0C0C0"/>
<rect x="603" y="619" width="1" height="50" fill="#C0C0C0"/>
<rect x="611" y="619" width="1" height="56" fill="#C0C0C0"/>
<rect x="619" y="619" width="1" height="64" fill="#C0C0C0"/>
<rect x="627" y="619" width="1" height="62" fill="#C0C0C0"/>
<rect x="635" y="619" width="1" height="58" fill="#C0C0C0"/>
<rect x="643" y="619" width="1" height="46" fill="#C0C0C0"/>
<rect x="651" y="619" width="1" height="34" fill="#C0C0C0"/>
<rect x="659" y="619" width="1" height="24" fill="#C0C0C0"/>
<rect x="667" y="619" width="1" height="15" fill="#C0C0C0"/>
<rect x="675" y="619" width="1" height="11" fill="#C0C0C0"/>
<rect x="683" y="619" width="1" height="5" fill="#C0C0C0"/>
<rect x="691" y="619" width="1" height="1" fill="#C0C0C0"/>
<rect x="699" y="611" width="1" height="9" fill="#C0C0C0"/>
<rect x="707" y="605" width="1" height="15" fill="#C0C0C0"/>
<rect x="715" y="599" width="1" height="21" fill="#C0C0C0"/>
<rect x="723" y="596" width="1" height="24" fill="#C0C0C0"/>
<rect x="731" y="595" width="1" height="25" fill="#C0C0C0"/>
<rect x="739" y="593" width="1" height="27" fill="#C0C0C0"/>
<rect x="747" y="594" width="1" height="26" fill="#C0C0C0"/>
<rect x="755" y="593" width="1" height="27" fill="#C0C0C0"/>
<rect x="763" y="592" width="1" height="28" fill="#C0C0C0"/>
<rect x="771" y="591" width="1" height="29" fill="#C0C0C0"/>
<rect x="779" y="588" width="1" height="32" fill="#C0C0C0"/>
<rect x="787" y="587" width="1" height="33" fill="#C0C0C0"/>
<rect x="795" y="585" width="1" height="35" fill="#C0C0C0"/>
<rect x="803" y="583" width="1" height="37" fill="#C0C0C0"/>
<rect x="811" y="581" width="1" height="39" fill="#C0C0C0"/>
<rect x="819" y="582" width="1" height="38" fill="#C0C0C0"/>
<rect x="827" y="582" width="1" height="38" fill="#C0C0C0"/>
<rect x="835" y="581" width="1" height="39" fill="#C0C0C0"/>
<rect x="843" y="580" width="1" height="40" fill="#C0C0C0"/>
<rect x="851" y="579" width="1" height="41" fill="#C0C0C0"/>
<rect x="859" y="578" width="1" height="42" fill="#C0C0C0"/>
<rect x="867" y="578" width="1" height="42" fill="#C0C0C0"/>
<rect x="875" y="579" width="1" height="41" fill="#C0C0C0"/>
<rect x="883" y="580" width="1" height="40" fill="#C0C0C0"/>
<rect x="891" y="582" width="1" height="38" fill="#C0C0C0"/>
<rect x="899" y="581" width="1" height="39" fill="#C0C0C0"/>
<rect x="907" y="582" width="1" height="38" fill="#C0C0C0"/>
<rect x="915" y="584" width="1" height="36" fill="#C0C0C0"/>
<rect x="923" y="585" width="1" height="35" fill="#C0C0C0"/>
<rect x="931" y="586" width="1" height="34" fill="#C0C0C0"/>
<rect x="939" y="586" width="1" height="34" fill="#C0C0C0"/>
<rect x="947" y="587" width="1" height="33" fill="#C0C0C0"/>
<rect x="955" y="586" width="1" height="34" fill="#C0C0C0"/>
<rect x="963" y="587" width="1" height="33" fill="#C0C0C0"/>
<rect x="971" y="588" width="1" height="32" fill="#C0C0C0"/>
<rect x="979" y="590" width="1" height="30" fill="#C0C0C0"/>
<rect x="987" y="591" width="1" height="29" fill="#C0C0C0"/>
<rect x="995" y="591" width="1" height="29" fill="#C0C0C0"/>
<rect x="1003" y="590" width="1" height="30" fill="#C0C0C0"/>
<rect x="1011" y="590" width="1" height="30" fill="#C0C0C0"/>
<rect x="1019" y="588" width="1" height="32" fill="#C0C0C0"/>
<rect x="1027" y="589" width="1" height="31" fill="#C0C0C0"/>
<rect x="1035" y="589" width="1" height="31" fill="#C0C0C0"/>
<rect x="1043" y="586" width="1" height="34" fill="#C0C0C0"/>
<rect x="1051" y="586" width="1" height="34" fill="#C0C0C0"/>
<rect x="1059" y="585" width="1" height="35" fill="#C0C0C0"/>
<rect x="1067" y="583" width="1" height="37" fill="#C0C0C0"/>
<rect x="1075" y="583" width="1" height="37" fill="#C0C0C0"/>
<rect x="1083" y="580" width="1" height="40" fill="#C0C0C0"/>
<rect x="1091" y="574" width="1" height="46" fill="#C0C0C0"/>
<rect x="1099" y="572" width="1" height="48" fill="#C0C0C0"/>
<rect x="1107" y="570" width="1" height="50" fill="#C0C0C0"/>
<rect x="1115" y="571" width="1" height="49" fill="#C0C0C0"/>
<rect x="1123" y="572" width="1" height="48" fill="#C0C0C0"/>
<rect x="1131" y="571" width="1" height="49" fill="#C0C0C0"/>
<rect x="1139" y="571" width="1" height="49" fill="#C0C0C0"/>
<rect x="1147" y="572" width="1" height="48" fill="#C0C0C0"/>
<rect x="1155" y="572" width="1" height="48" fill="#C0C0C0"/>
<rect x="1163" y="574" width="1" height="46" fill="#C0C0C0"/>
<rect x="1171" y="577" width="1" height="43" fill="#C0C0C0"/>
<rect x="1179" y="578" width="1" height="42" fill="#C0C0C0"/>
<rect x="1187" y="586" width="1" height="34" fill="#C0C0C0"/>
<rect x="1195" y="589" width="1" height="31" fill="#C0C0C0"/>
<rect x="1203" y="593" width="1" height="27" fill="#C0C0C0"/>
<rect x="1211" y="594" width="1" height="26" fill="#C0C0C0"/>
<rect x="1219" y="595" width="1" height="25" fill="#C0C0C0"/>
<rect x="1227" y="594" width="1" height="26" fill="#C0C0C0"/>
<rect x="1235" y="594" width="1" height="26" fill="#C0C0C0"/>
<rect x="1243" y="593" width="1" height="27" fill="#C0C0C0"/>
<rect x="1251" y="592" width="1" height="28" fill="#C0C0C0"/>
<rect x="1259" y="594" width="1" height="26" fill="#C0C0C0"/>
<rect x="1267" y="602" width="1" height="18" fill="#C0C0C0"/>
<rect x="1275" y="615" width="1" height="5" fill="#C0C0C0"/>
<rect x="1283" y="618" width="1" height="2" fill="#C0C0C0"/>
<rect x="1291" y="619" width="1" height="1" fill="#C0C0C0"/>
<rect x="1299" y="619" width="1" height="5" fill="#C0C0C0"/>
<rect x="1307" y="619" width="1" height="9" fill="#C0C0C0"/>
<rect x="1315" y="619" width="1" height="9" fill="#C0C0C0"/>
<rect x="1323" y="619" width="1" height="5" fill="#C0C0C0"/>
<rect x="1331" y="617" width="1" height="3" fill="#C0C0C0"/>
<rect x="1339" y="610" width="1" height="10" fill="#C0C0C0"/>
<rect x="1347" y="604" width="1" height="16" fill="#C0C0C0"/>
<rect x="1355" y="599" width="1" height="21" fill="#C0C0C0"/>
<rect x="1363" y="598" width="1" height="22" fill="#C0C0C0"/>
<rect x="1371" y="599" width="1" height="21" fill="#C0C0C0"/>
<rect x="1379" y="598" width="1" height="22" fill="#C0C0C0"/>
<rect x="1387" y="593" width="1" height="27" fill="#C0C0C0"/>
<rect x="1395" y="589" width="1" height="31" fill="#C0C0C0"/>
<rect x="1403" y="585" width="1" height="35" fill="#C0C0C0"/>
<rect x="1411" y="584" width="1" height="36" fill="#C0C0C0"/>
<rect x="1419" y="584" width="1" height="36" fill="#C0C0C0"/>
<rect x="1427" y="582" width="1" height="38" fill="#C0C0C0"/>
<rect x="1435" y="581" width="1" height="39" fill="#C0C0C0"/>
<rect x="1443" y="585" width="1" height="35" fill="#C0C0C0"/>
<rect x="1451" y="590" width="1" height="30" fill="#C0C0C0"/>
<rect x="1459" y="593" width="1" height="27" fill="#C0C0C0"/>
<rect x="1467" y="597" width="1" height="23" fill="#C0C0C0"/>
<rect x="1475" y="597" width="1" height="23" fill="#C0C0C0"/>
<rect x="1483" y="601" width="1" height="19" fill="#C0C0C0"/>
<rect x="1491" y="601" width="1" height="19" fill="#C0C0C0"/>
<rect x="1499" y="601" width="1" height="19" fill="#C0C0C0"/>
<rect x="1507" y="602" width="1" height="18" fill="#C0C0C0"/>
<rect x="1515" y="604" width="1" height="16" fill="#C0C0C0"/>
<rect x="1523" y="608" width="1" height="12" fill="#C0C0C0"/>
<rect x="1531" y="611" width="1" height="9" fill="#C0C0C0"/>
<rect x="1539" y="614" width="1" height="6" fill="#C0C0C0"/>
<rect x="1547" y="618" width="1" height="2" fill="#C0C0C0"/>
<rect x="1555" y="619" width="1" height="1" fill="#C0C0C0"/>
<rect x="1563" y="619" width="1" height="1" fill="#C0C0C0"/>
<rect x="1571" y="619" width="1" height="1" fill="#C0C0C0"/>
<rect x="1579" y="619" width="1" height="2" fill="#C0C0C0"/>
<rect x="1587" y="619" width="1" height="10" fill="#C0C0C0"/>
<rect x="1595" y="619" width="1" height="17" fill="#C0C0C0"/>
<rect x="1603" y="619" width="1" height="24" fill="#C0C0C0"/>
<rect x="1611" y="619" width="1" height="30" fill="#C0C0C0"/>
<rect x="1619" y="619" width="1" height="36" fill="#C0C0C0"/>
<rect x="1627" y="619" width="1" height="46" fill="#C0C0C0"/>
<rect x="1635" y="619" width="1" height="57" fill="#C0C0C0"/>
<rect x="1643" y="619" width="1" height="66" fill="#C0C0C0"/>
<rect x="1651" y="619" width="1" height="71" fill="#C0C0C0"/>
<rect x="1659" y="619" width="1" height="73" fill="#C0C0C0"/>
</g>
<polyline points="3.5,610.5 11.5,611.5 19.5,612.2 27.5,613.4 35.5,614.5 43.5,615.2 51.5,616.5 59.5,617.4 67.5,619.4 75.5,620.8 83.5,622.3 91.5,623.2 99.5,623.1 107.5,621.6 115.5,619.6 123.5,617.2 131.5,614.5 139.5,611.5 147.5,608.6 155.5,605.6 163.5,603.3 171.5,601.7 179.5,600.7 187.5,600.0 195.5,599.7 203.5,599.5 211.5,599.7 219.5,599.9 227.5,600.2 235.5,600.5 243.5,601.1 251.5,601.8 259.5,602.9 267.5,603.8 275.5,604.9 283.5,606.1 291.5,606.9 299.5,607.4 307.5,607.8 315.5,607.8 323.5,607.6 331.5,606.9 339.5,606.3 347.5,605.3 355.5,604.0 363.5,602.9 371.5,601.9 379.5,600.9 387.5,600.3 395.5,600.1 403.5,599.8 411.5,599.4 419.5,598.9 427.5,598.3 435.5,597.8 443.5,597.9 451.5,598.3 459.5,599.1 467.5,599.9 475.5,601.3 483.5,603.1 491.5,605.3 499.5,608.6 507.5,612.8 515.5,617.3 523.5,622.2 531.5,627.0 539.5,631.5 547.5,635.4 555.5,638.8 563.5,641.6 571.5,643.7 579.5,645.0 587.5,646.4 595.5,648.2 603.5,650.6 611.5,653.5 619.5,657.5 627.5,661.5 635.5,665.4 643.5,667.9 651.5,669.0 659.5,668.1 667.5,665.1 675.5,660.8 683.5,655.2 691.5,647.9 699.5,640.1 707.5,632.0 715.5,624.6 723.5,618.1 731.5,612.6 739.5,607.9 747.5,603.8 755.5,600.3 763.5,597.3 771.5,595.0 779.5,593.2 787.5,591.7 795.5,590.5 803.5,589.3 811.5,588.0 819.5,586.7 827.5,585.5 835.5,584.2 843.5,583.0 851.5,581.9 859.5,581.0 867.5,580.2 875.5,579.7 883.5,579.5 891.5,579.5 899.5,579.4 907.5,579.5 915.5,580.1 923.5,580.7 931.5,581.6 939.5,582.5 947.5,583.3 955.5,584.1 963.5,584.6 971.5,585.4 979.5,586.3 987.5,587.0 995.5,587.7 1003.5,588.2 1011.5,588.7 1019.5,588.8 1027.5,589.1 1035.5,589.3 1043.5,589.2 1051.5,588.7 1059.5,587.9 1067.5,587.1 1075.5,586.2 1083.5,585.1 1091.5,583.6 1099.5,581.6 1107.5,579.6 1115.5,577.8 1123.5,576.2 1131.5,574.8 1139.5,573.4 1147.5,572.2 1155.5,571.4 1163.5,571.3 1171.5,571.9 1179.5,572.8 1187.5,574.5 1195.5,576.4 1203.5,578.8 1211.5,581.4 1219.5,583.9 1227.5,586.4 1235.5,588.6 1243.5,590.4 1251.5,592.0 1259.5,592.8 1267.5,594.3 1275.5,596.8 1283.5,599.4 1291.5,602.4 1299.5,605.8 1307.5,609.7 1315.5,613.6 1323.5,617.2 1331.5,619.8 1339.5,620.6 1347.5,619.5 1355.5,617.3 1363.5,614.7 1371.5,611.8 1379.5,608.3 1387.5,604.4 1395.5,600.4 1403.5,596.9 1411.5,594.0 1419.5,591.7 1427.5,589.9 1435.5,588.0 1443.5,586.4 1451.5,585.5 1459.5,585.5 1467.5,586.4 1475.5,587.8 1483.5,589.7 1491.5,591.6 1499.5,593.7 1507.5,596.0 1515.5,598.2 1523.5,600.2 1531.5,602.1 1539.5,604.0 1547.5,606.2 1555.5,608.3 1563.5,610.3 1571.5,612.3 1579.5,614.5 1587.5,617.4 1595.5,620.7 1603.5,624.4 1611.5,628.5 1619.5,632.7 1627.5,637.9 1635.5,644.3 1643.5,651.9 1651.5,659.5 1659.5,666.5" fill="none" stroke="#FF0000" stroke-width="1" stroke-dasharray="3,3" shape-rendering="crispEdges"/>
</g>
<g clip-path="url(#cr)">
<polyline points="3.5,757.3 11.5,755.3 19.5,754.9 27.5,763.5 35.5,776.6 43.5,761.9 51.5,765.4 59.5,767.6 67.5,762.8 75.5,764.4 83.5,761.4 91.5,749.6 99.5,745.9 107.5,747.8 115.5,746.1 123.5,750.8 131.5,752.1 139.5,748.0 147.5,755.5 155.5,751.6 163.5,751.1 171.5,750.3 179.5,753.6 187.5,748.5 195.5,755.8 203.5,753.9 211.5,753.6 219.5,753.6 227.5,754.8 235.5,750.0 243.5,754.6 251.5,761.1 259.5,758.5 267.5,756.4 275.5,759.6 283.5,762.0 291.5,748.8 299.5,748.3 307.5,749.6 315.5,747.2 323.5,750.9 331.5,746.5 339.5,754.1 347.5,747.5 355.5,749.2 363.5,745.8 371.5,746.7 379.5,746.1 387.5,750.6 395.5,759.4 403.5,747.7 411.5,748.9 419.5,743.9 427.5,743.4 435.5,747.1 443.5,760.8 451.5,758.2 459.5,764.0 467.5,763.0 475.5,764.6 483.5,765.9 491.5,764.3 499.5,777.0 507.5,784.1 515.5,780.8 523.5,782.7 531.5,779.8 539.5,774.5 547.5,767.8 555.5,765.7 563.5,764.6 571.5,769.9 579.5,774.3 587.5,785.5 595.5,790.0 603.5,790.9 611.5,791.0 619.5,795.3 627.5,773.3 635.5,770.3 643.5,756.0 651.5,753.9 659.5,752.6 667.5,751.7 675.5,757.5 683.5,753.0 691.5,750.9 699.5,747.5 707.5,747.0 715.5,745.2 723.5,747.7 731.5,749.4 739.5,748.2 747.5,753.3 755.5,750.2 763.5,747.9 771.5,747.2 779.5,743.9 787.5,743.5 795.5,742.2 803.5,740.7 811.5,739.0 819.5,744.7 827.5,744.0 835.5,739.3 843.5,738.2 851.5,738.0 859.5,736.0 867.5,739.7 875.5,739.0 883.5,739.5 891.5,743.7 899.5,737.7 907.5,742.2 915.5,746.0 923.5,741.8 931.5,745.1 939.5,740.1 947.5,744.4 955.5,740.7 963.5,742.4 971.5,744.1 979.5,750.2 987.5,746.3 995.5,743.1 1003.5,740.1 1011.5,739.5 1019.5,735.3 1027.5,745.8 1035.5,742.2 1043.5,736.6 1051.5,739.8 1059.5,737.8 1067.5,736.1 1075.5,737.9 1083.5,730.8 1091.5,726.6 1099.5,730.9 1107.5,732.0 1115.5,734.8 1123.5,736.5 1131.5,733.5 1139.5,731.8 1147.5,737.2 1155.5,734.3 1163.5,740.1 1171.5,742.9 1179.5,741.7 1187.5,763.6 1195.5,752.7 1203.5,757.1 1211.5,753.7 1219.5,750.2 1227.5,748.4 1235.5,748.2 1243.5,744.3 1251.5,744.7 1259.5,753.2 1267.5,768.8 1275.5,779.7 1283.5,765.0 1291.5,764.8 1299.5,767.8 1307.5,770.2 1315.5,761.5 1323.5,755.2 1331.5,748.9 1339.5,746.5 1347.5,747.3 1355.5,745.6 1363.5,752.0 1371.5,756.2 1379.5,752.4 1387.5,745.8 1395.5,744.2 1403.5,743.8 1411.5,746.1 1419.5,747.9 1427.5,745.4 1435.5,743.4 1443.5,756.2 1451.5,759.1 1459.5,757.5 1467.5,759.1 1475.5,752.9 1483.5,760.2 1491.5,754.0 1499.5,754.5 1507.5,756.2 1515.5,758.4 1523.5,762.4 1531.5,762.9 1539.5,763.5 1547.5,767.9 1555.5,762.7 1563.5,760.5 1571.5,757.7 1579.5,768.3 1587.5,777.7 1595.5,779.0 1603.5,781.3 1611.5,782.5 1619.5,784.8 1627.5,790.8 1635.5,795.0 1643.5,795.7 1651.5,789.2 1659.5,788.1" fill="none" stroke="#1E90FF" stroke-width="1" shape-rendering="crispEdges"/>
</g>
<g shape-rendering="crispEdges">
<line x1="4" y1="737.5" x2="1678" y2="737.5" stroke="#C0C0C0" stroke-width="1" stroke-dasharray="3,3"/>
<line x1="4" y1="783.5" x2="1678" y2="783.5" stroke="#C0C0C0" stroke-width="1" stroke-dasharray="3,3"/>
</g>
<g shape-rendering="crispEdges">
<rect x="2" y="2" width="1677" height="1" fill="#000"/>
<rect x="2" y="560" width="1677" height="1" fill="#000"/>
<rect x="2" y="2" width="1" height="559" fill="#000"/>
<rect x="1678" y="2" width="1" height="559" fill="#000"/>
<rect x="2" y="562" width="1677" height="1" fill="#000"/>
<rect x="2" y="699" width="1677" height="1" fill="#000"/>
<rect x="2" y="562" width="1" height="138" fill="#000"/>
<rect x="1678" y="562" width="1" height="138" fill="#000"/>
<rect x="2" y="701" width="1677" height="1" fill="#000"/>
<rect x="2" y="818" width="1677" height="1" fill="#000"/>
<rect x="2" y="701" width="1" height="118" fill="#000"/>
<rect x="1678" y="701" width="1" height="118" fill="#000"/>
<rect x="1678" y="737" width="1" height="1" fill="#fff"/>
<rect x="1678" y="783" width="1" height="1" fill="#fff"/>
<rect x="1729" y="0" width="1" height="840" fill="#E3E3E3"/>
<rect x="0" y="839" width="1731" height="1" fill="#E3E3E3"/>
</g>
<g shape-rendering="crispEdges">
<rect x="1679" y="29" width="2" height="1" fill="#000"/>
<rect x="1679" y="62" width="2" height="1" fill="#000"/>
<rect x="1679" y="95" width="2" height="1" fill="#000"/>
<rect x="1679" y="128" width="2" height="1" fill="#000"/>
<rect x="1679" y="161" width="2" height="1" fill="#000"/>
<rect x="1679" y="194" width="2" height="1" fill="#000"/>
<rect x="1679" y="227" width="2" height="1" fill="#000"/>
<rect x="1679" y="260" width="2" height="1" fill="#000"/>
<rect x="1679" y="293" width="2" height="1" fill="#000"/>
<rect x="1679" y="326" width="2" height="1" fill="#000"/>
<rect x="1679" y="359" width="2" height="1" fill="#000"/>
<rect x="1679" y="392" width="2" height="1" fill="#000"/>
<rect x="1679" y="425" width="2" height="1" fill="#000"/>
<rect x="1679" y="458" width="2" height="1" fill="#000"/>
<rect x="1679" y="491" width="2" height="1" fill="#000"/>
<rect x="1679" y="524" width="2" height="1" fill="#000"/>
<rect x="1679" y="557" width="2" height="1" fill="#000"/>
</g>
<g shape-rendering="crispEdges">
<rect x="1679" y="564" width="2" height="1" fill="#000"/>
<rect x="1679" y="619" width="2" height="1" fill="#000"/>
<rect x="1679" y="698" width="2" height="1" fill="#000"/>
</g>
<rect x="1679" y="702" width="2" height="1" fill="#000" shape-rendering="crispEdges"/>
<rect x="1679" y="817" width="2" height="1" fill="#000" shape-rendering="crispEdges"/>
<g shape-rendering="crispEdges">
<rect x="3" y="819" width="1" height="3" fill="#000"/>
<rect x="67" y="819" width="1" height="3" fill="#000"/>
<rect x="131" y="819" width="1" height="3" fill="#000"/>
<rect x="195" y="819" width="1" height="3" fill="#000"/>
<rect x="259" y="819" width="1" height="3" fill="#000"/>
<rect x="323" y="819" width="1" height="3" fill="#000"/>
<rect x="387" y="819" width="1" height="3" fill="#000"/>
<rect x="451" y="819" width="1" height="3" fill="#000"/>
<rect x="515" y="819" width="1" height="3" fill="#000"/>
<rect x="579" y="819" width="1" height="3" fill="#000"/>
<rect x="643" y="819" width="1" height="3" fill="#000"/>
<rect x="707" y="819" width="1" height="3" fill="#000"/>
<rect x="771" y="819" width="1" height="3" fill="#000"/>
<rect x="835" y="819" width="1" height="3" fill="#000"/>
<rect x="899" y="819" width="1" height="3" fill="#000"/>
<rect x="963" y="819" width="1" height="3" fill="#000"/>
<rect x="1027" y="819" width="1" height="3" fill="#000"/>
<rect x="1091" y="819" width="1" height="3" fill="#000"/>
<rect x="1155" y="819" width="1" height="3" fill="#000"/>
<rect x="1219" y="819" width="1" height="3" fill="#000"/>
<rect x="1283" y="819" width="1" height="3" fill="#000"/>
<rect x="1347" y="819" width="1" height="3" fill="#000"/>
<rect x="1411" y="819" width="1" height="3" fill="#000"/>
<rect x="1475" y="819" width="1" height="3" fill="#000"/>
<rect x="1539" y="819" width="1" height="3" fill="#000"/>
<rect x="1603" y="819" width="1" height="3" fill="#000"/>
</g>
<path d="M6 9 L13 9 L9.5 12.5 Z" fill="#000"/>
<text transform="translate(1684.00,33) scale(0.9250,1)" font-size="10" text-rendering="geometricPrecision" fill="#000" stroke="#000" stroke-width="0.2">4384.130</text>
<text transform="translate(1684.00,66) scale(0.9250,1)" font-size="10" text-rendering="geometricPrecision" fill="#000" stroke="#000" stroke-width="0.2">4367.795</text>
<text transform="translate(1684.00,99) scale(0.9250,1)" font-size="10" text-rendering="geometricPrecision" fill="#000" stroke="#000" stroke-width="0.2">4351.460</text>
<text transform="translate(1684.00,132) scale(0.9250,1)" font-size="10" text-rendering="geometricPrecision" fill="#000" stroke="#000" stroke-width="0.2">4334.630</text>
<text transform="translate(1684.00,165) scale(0.9250,1)" font-size="10" text-rendering="geometricPrecision" fill="#000" stroke="#000" stroke-width="0.2">4318.295</text>
<text transform="translate(1684.00,198) scale(0.9250,1)" font-size="10" text-rendering="geometricPrecision" fill="#000" stroke="#000" stroke-width="0.2">4301.960</text>
<text transform="translate(1684.00,231) scale(0.9250,1)" font-size="10" text-rendering="geometricPrecision" fill="#000" stroke="#000" stroke-width="0.2">4285.625</text>
<text transform="translate(1684.00,264) scale(0.9250,1)" font-size="10" text-rendering="geometricPrecision" fill="#000" stroke="#000" stroke-width="0.2">4269.290</text>
<text transform="translate(1684.00,297) scale(0.9250,1)" font-size="10" text-rendering="geometricPrecision" fill="#000" stroke="#000" stroke-width="0.2">4252.460</text>
<text transform="translate(1684.00,330) scale(0.9250,1)" font-size="10" text-rendering="geometricPrecision" fill="#000" stroke="#000" stroke-width="0.2">4236.125</text>
<text transform="translate(1684.00,363) scale(0.9250,1)" font-size="10" text-rendering="geometricPrecision" fill="#000" stroke="#000" stroke-width="0.2">4219.790</text>
<text transform="translate(1684.00,396) scale(0.9250,1)" font-size="10" text-rendering="geometricPrecision" fill="#000" stroke="#000" stroke-width="0.2">4203.455</text>
<text transform="translate(1684.00,429) scale(0.9250,1)" font-size="10" text-rendering="geometricPrecision" fill="#000" stroke="#000" stroke-width="0.2">4186.625</text>
<text transform="translate(1684.00,462) scale(0.9250,1)" font-size="10" text-rendering="geometricPrecision" fill="#000" stroke="#000" stroke-width="0.2">4170.290</text>
<text transform="translate(1684.00,495) scale(0.9250,1)" font-size="10" text-rendering="geometricPrecision" fill="#000" stroke="#000" stroke-width="0.2">4153.955</text>
<text transform="translate(1684.00,528) scale(0.9250,1)" font-size="10" text-rendering="geometricPrecision" fill="#000" stroke="#000" stroke-width="0.2">4137.620</text>
<text transform="translate(1684.00,561) scale(0.9250,1)" font-size="10" text-rendering="geometricPrecision" fill="#000" stroke="#000" stroke-width="0.2">4121.285</text>
<rect x="1680" y="72" width="46" height="11" fill="#FF0000" shape-rendering="crispEdges"/>
<text transform="translate(1684.00,81) scale(0.9150,1)" font-size="10" text-rendering="geometricPrecision" fill="#fff" stroke="#fff" stroke-width="0.2">4360.000</text>
<rect x="1680" y="192" width="46" height="11" fill="#FF0000" shape-rendering="crispEdges"/>
<text transform="translate(1684.00,201) scale(0.9150,1)" font-size="10" text-rendering="geometricPrecision" fill="#fff" stroke="#fff" stroke-width="0.2">4300.000</text>
<rect x="1680" y="272" width="46" height="12" fill="#000" shape-rendering="crispEdges"/>
<rect x="1680" y="272" width="46" height="11" fill="#32CD32" shape-rendering="crispEdges"/>
<text transform="translate(1684.00,281) scale(0.9150,1)" font-size="10" text-rendering="geometricPrecision" fill="#fff" stroke="#fff" stroke-width="0.2">4260.000</text>
<rect x="1680" y="373" width="46" height="11" fill="#4169E1" shape-rendering="crispEdges"/>
<text transform="translate(1684.00,382) scale(0.9150,1)" font-size="10" text-rendering="geometricPrecision" fill="#fff" stroke="#fff" stroke-width="0.2">4210.000</text>
<rect x="1680" y="493" width="46" height="11" fill="#4169E1" shape-rendering="crispEdges"/>
<text transform="translate(1684.00,502) scale(0.9150,1)" font-size="10" text-rendering="geometricPrecision" fill="#fff" stroke="#fff" stroke-width="0.2">4150.000</text>
<text transform="translate(1681.55,573) scale(0.9500,1)" font-size="10" text-rendering="geometricPrecision" fill="#000" stroke="#000" stroke-width="0.2">19.3348</text>
<text transform="translate(1682.50,623) scale(0.9300,1)" font-size="10" text-rendering="geometricPrecision" fill="#000" stroke="#000" stroke-width="0.2">0.00</text>
<text transform="translate(1681.25,696) scale(0.9500,1)" font-size="10" text-rendering="geometricPrecision" fill="#000" stroke="#000" stroke-width="0.2">-27.4796</text>
<text transform="translate(1680.50,712) scale(1.0000,1)" font-size="10" text-rendering="geometricPrecision" fill="#000" stroke="#000" stroke-width="0.2">100</text>
<text transform="translate(1680.55,741) scale(0.9500,1)" font-size="10" text-rendering="geometricPrecision" fill="#000" stroke="#000" stroke-width="0.2">70</text>
<text transform="translate(1680.55,787) scale(0.9500,1)" font-size="10" text-rendering="geometricPrecision" fill="#000" stroke="#000" stroke-width="0.2">30</text>
<text transform="translate(1681.50,815) scale(1.0000,1)" font-size="10" text-rendering="geometricPrecision" fill="#000" stroke="#000" stroke-width="0.2">0</text>
<text transform="translate(2.00,831) scale(0.9200,1)" font-size="10" text-rendering="geometricPrecision" fill="#000" stroke="#000" stroke-width="0.2">2 Jun 2021</text>
<text transform="translate(66.00,831) scale(0.9200,1)" font-size="10" text-rendering="geometricPrecision" fill="#000" stroke="#000" stroke-width="0.2">4 Jun 00:00</text>
<text transform="translate(129.08,831) scale(0.9200,1)" font-size="10" text-rendering="geometricPrecision" fill="#000" stroke="#000" stroke-width="0.2">7 Jun 04:00</text>
<text transform="translate(194.00,831) scale(0.9200,1)" font-size="10" text-rendering="geometricPrecision" fill="#000" stroke="#000" stroke-width="0.2">8 Jun 12:00</text>
<text transform="translate(258.00,831) scale(0.9200,1)" font-size="10" text-rendering="geometricPrecision" fill="#000" stroke="#000" stroke-width="0.2">9 Jun 20:00</text>
<text transform="translate(321.08,831) scale(0.9200,1)" font-size="10" text-rendering="geometricPrecision" fill="#000" stroke="#000" stroke-width="0.2">11 Jun 04:00</text>
<text transform="translate(385.08,831) scale(0.9200,1)" font-size="10" text-rendering="geometricPrecision" fill="#000" stroke="#000" stroke-width="0.2">14 Jun 08:00</text>
<text transform="translate(449.08,831) scale(0.9200,1)" font-size="10" text-rendering="geometricPrecision" fill="#000" stroke="#000" stroke-width="0.2">15 Jun 16:00</text>
<text transform="translate(513.08,831) scale(0.9200,1)" font-size="10" text-rendering="geometricPrecision" fill="#000" stroke="#000" stroke-width="0.2">17 Jun 00:00</text>
<text transform="translate(577.08,831) scale(0.9200,1)" font-size="10" text-rendering="geometricPrecision" fill="#000" stroke="#000" stroke-width="0.2">18 Jun 08:00</text>
<text transform="translate(642.00,831) scale(0.9200,1)" font-size="10" text-rendering="geometricPrecision" fill="#000" stroke="#000" stroke-width="0.2">21 Jun 12:00</text>
<text transform="translate(706.00,831) scale(0.9200,1)" font-size="10" text-rendering="geometricPrecision" fill="#000" stroke="#000" stroke-width="0.2">22 Jun 20:00</text>
<text transform="translate(770.00,831) scale(0.9200,1)" font-size="10" text-rendering="geometricPrecision" fill="#000" stroke="#000" stroke-width="0.2">24 Jun 04:00</text>
<text transform="translate(834.00,831) scale(0.9200,1)" font-size="10" text-rendering="geometricPrecision" fill="#000" stroke="#000" stroke-width="0.2">25 Jun 12:00</text>
<text transform="translate(898.00,831) scale(0.9200,1)" font-size="10" text-rendering="geometricPrecision" fill="#000" stroke="#000" stroke-width="0.2">28 Jun 16:00</text>
<text transform="translate(961.08,831) scale(0.9200,1)" font-size="10" text-rendering="geometricPrecision" fill="#000" stroke="#000" stroke-width="0.2">30 Jun 00:00</text>
<text transform="translate(1025.08,831) scale(0.9200,1)" font-size="10" text-rendering="geometricPrecision" fill="#000" stroke="#000" stroke-width="0.2">1 Jul 08:00</text>
<text transform="translate(1090.00,831) scale(0.9200,1)" font-size="10" text-rendering="geometricPrecision" fill="#000" stroke="#000" stroke-width="0.2">2 Jul 16:00</text>
<text transform="translate(1153.08,831) scale(0.9200,1)" font-size="10" text-rendering="geometricPrecision" fill="#000" stroke="#000" stroke-width="0.2">5 Jul 22:00</text>
<text transform="translate(1217.08,831) scale(0.9200,1)" font-size="10" text-rendering="geometricPrecision" fill="#000" stroke="#000" stroke-width="0.2">7 Jul 04:00</text>
<text transform="translate(1282.00,831) scale(0.9200,1)" font-size="10" text-rendering="geometricPrecision" fill="#000" stroke="#000" stroke-width="0.2">8 Jul 12:00</text>
<text transform="translate(1346.00,831) scale(0.9200,1)" font-size="10" text-rendering="geometricPrecision" fill="#000" stroke="#000" stroke-width="0.2">9 Jul 20:00</text>
<text transform="translate(1409.08,831) scale(0.9200,1)" font-size="10" text-rendering="geometricPrecision" fill="#000" stroke="#000" stroke-width="0.2">13 Jul 00:00</text>
<text transform="translate(1473.08,831) scale(0.9200,1)" font-size="10" text-rendering="geometricPrecision" fill="#000" stroke="#000" stroke-width="0.2">14 Jul 08:00</text>
<text transform="translate(1537.08,831) scale(0.9200,1)" font-size="10" text-rendering="geometricPrecision" fill="#000" stroke="#000" stroke-width="0.2">15 Jul 16:00</text>
<text transform="translate(1601.08,831) scale(0.9200,1)" font-size="10" text-rendering="geometricPrecision" fill="#000" stroke="#000" stroke-width="0.2">18 Jul 23:00</text>
<text transform="translate(17.07,14) scale(0.9313,1)" font-size="10" text-rendering="geometricPrecision" fill="#000" stroke="#000" stroke-width="0.2">SP500-,H4&#160;&#160;4258.250 4263.000 4257.750 4260.250</text>
<text transform="translate(6.55,575) scale(0.9477,1)" font-size="10" text-rendering="geometricPrecision" fill="#000" stroke="#000" stroke-width="0.2">MACD(12,26,9) -25.3517 -16.1161</text>
<text transform="translate(6.55,714) scale(0.9507,1)" font-size="10" text-rendering="geometricPrecision" fill="#000" stroke="#000" stroke-width="0.2">RSI(14) 25.2035</text>
<text x="1236" y="450" font-size="38.5" fill="#ED1C24" font-family="'Liberation Sans', 'Noto Sans CJK SC', sans-serif"><tspan letter-spacing="-2.75">多空转折点</tspan><tspan x="1417" y="448.6">4260</tspan></text></svg>
</body></html>
